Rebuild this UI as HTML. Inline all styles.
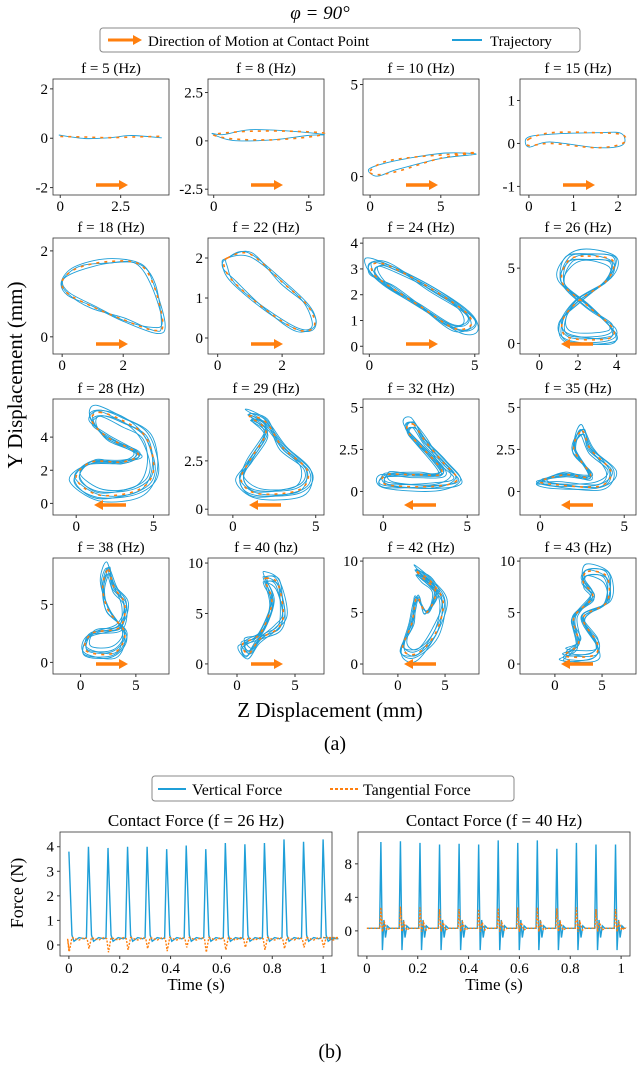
<!DOCTYPE html>
<html><head><meta charset="utf-8"><style>
html,body{margin:0;padding:0;background:#fff}
svg{display:block;font-family:"Liberation Serif",serif}
</style></head><body>
<svg id="fig" width="640" height="1066" viewBox="0 0 640 1066" xmlns="http://www.w3.org/2000/svg">
<text x="320" y="19" font-size="19" text-anchor="middle" font-style="italic">φ = 90°</text>
<g>
<rect x="100" y="28" width="480" height="24" rx="3" fill="#fff" stroke="#888"/>
<line x1="108" y1="40" x2="136" y2="40" stroke="#ff7f0e" stroke-width="3"/><path d="M133 35 L142 40 L133 45Z" fill="#ff7f0e"/>
<text x="148" y="46" font-size="15">Direction of Motion at Contact Point</text>
<line x1="452" y1="40" x2="482" y2="40" stroke="#1f9fd8" stroke-width="2"/>
<text x="490" y="46" font-size="15">Trajectory</text>
</g>
<g id="grid"></g>
<text transform="translate(22,375) rotate(-90)" font-size="21" text-anchor="middle">Y Displacement (mm)</text>
<text x="330" y="717" font-size="21" text-anchor="middle">Z Displacement (mm)</text>
<text x="335" y="750" font-size="20" text-anchor="middle">(a)</text>
<g>
<rect x="152" y="776" width="362" height="25" rx="3" fill="#fff" stroke="#888"/>
<line x1="158" y1="789" x2="186" y2="789" stroke="#1f9fd8" stroke-width="2"/>
<text x="192" y="795" font-size="16">Vertical Force</text>
<line x1="330" y1="789" x2="358" y2="789" stroke="#ff7f0e" stroke-width="2" stroke-dasharray="3,2"/>
<text x="363" y="795" font-size="16">Tangential Force</text>
</g>
<g id="forces"></g>
<text transform="translate(23,893) rotate(-90)" font-size="18" text-anchor="middle">Force (N)</text>
<text x="330" y="1058" font-size="20" text-anchor="middle">(b)</text>
</svg>
<script>
const NS="http://www.w3.org/2000/svg";
const BLUE="#1f9fd8",ORANGE="#ff7f0e";
const freqs=["5","8","10","15","18","22","24","26","28","29","32","35","38","40","42","43"];
const xlims=[[-0.3,4.5],[-0.3,5.8],[-0.5,7.7],[-0.2,2.4],[-0.3,3.5],[-0.3,3.3],[-0.3,5.2],[-1,5],[-1.5,6],[-1.5,5.5],[-1.2,5.7],[-1.2,5.7],[-2.5,8],[-2.5,7.5],[-3.7,8.6],[-3.7,8.6]];
const ylims=[[-2.3,2.4],[-2.8,3.2],[-1,5.3],[-1.2,1.5],[-0.4,2.3],[-0.4,2.5],[-0.3,4.2],[-0.7,7],[-0.7,6.3],[-0.3,5.7],[-1.4,5.5],[-1.4,5.5],[-1,9],[-1,10.5],[-0.97,10.3],[-0.97,10.3]];
const xticks=[[0,2.5],[0,5],[0,5],[0,1,2],[0,2],[0,2],[0,5],[0,2,4],[0,5],[0,5],[0,5],[0,5],[0,5],[0,5],[0,5],[0,5]];
const yticks=[[-2,0,2],[-2.5,0,2.5],[0,5],[-1,0,1],[0,2],[0,1,2],[0,1,2,3,4],[0,5],[0,2,4],[0,2.5],[0,2.5,5],[0,2.5,5],[0,5],[0,5,10],[0,5,10],[0,5,10]];
const arrowDir=[1,1,1,1,1,1,1,-1,-1,-1,-1,-1,1,1,-1,-1];
const loops=[
[[0,0.07],[1,0.05],[2,0.02],[3,0.05],[4.2,0.08]],
[[0,0.3],[1,0.1],[3,0.05],[5,0.2],[5.8,0.4],[4,0.5],[2,0.5],[0.5,0.4]],
[[0,0.3],[1,0.8],[3,1.05],[5.5,1.2],[7.5,1.3],[5,1.0],[2,0.3],[0.5,0.1]],
[[0,0.1],[0.5,0.25],[1.5,0.25],[2.1,0.2],[2.1,0],[1.5,-0.1],[0.5,0],[0,-0.05]],
[[0,1.3],[0.5,1.6],[1.5,1.75],[2.5,1.7],[3,1.2],[3.3,0.3],[3,0.15],[2,0.4],[1,0.7],[0.2,1.0]],
[[0.3,2.0],[1,2.1],[2,1.4],[2.8,0.8],[3.0,0.3],[2.5,0.2],[1.5,0.7],[0.5,1.4],[0.2,1.8]],
[[0.2,3.2],[1,3.1],[3,2.2],[4.6,1.3],[4.8,0.8],[4,0.7],[2.5,1.5],[1,2.3],[0.2,2.8]],
[[2.5,5.8],[3.8,5.5],[3.5,4.2],[2,2.8],[1.2,1.5],[1.5,0.4],[3.5,0.3],[3.8,1],[2.5,2.5],[1.2,4],[1.5,5.5]],
[[1.5,5.5],[3,5],[4.5,4],[5,2],[4,0.8],[1.5,0.5],[0,1.5],[1,2.5],[3,2.5],[4,3],[2,4],[1,5]],
[[1,4.8],[2,4.5],[3,3.2],[4.5,2],[4,1],[1.5,0.8],[0.5,1.5],[1,2.5],[2,4]],
[[1.8,4],[2.5,3],[3.5,1.8],[4.4,0.7],[3,0.3],[0.2,0.4],[0.2,1.0],[2,1.0],[3.5,1.2],[1.5,3.5]],
[[2.5,3.6],[3,2.5],[4.2,1.2],[3.5,0.3],[1,0.4],[0,0.6],[1.5,1.0],[3,0.9],[2,2.5]],
[[2.5,8],[3,6.5],[4,5],[3.5,3],[1,2.5],[0.5,1],[3,0.8],[4,2.5],[2.5,4.5],[2,6.5]],
[[2.5,8.5],[3.5,8],[4,5],[3.5,3.5],[2,2.5],[1,1],[0.5,2],[2,3],[3,6],[2.5,8]],
[[2,9],[3.5,8],[4.8,6],[4,3],[2,1],[0.5,1.5],[1.5,4],[2,6.5],[3,5],[4,7],[2.5,8.5]],
[[3.5,9],[5.5,8.5],[5.5,6],[3,4.5],[4.5,2],[4,0.8],[1,0.8],[2.5,2],[2,4.5],[4,6.5],[3,8]]];
const colX=[53,208,363,520],rowY=[79,238,399,558],PW=116,H=116;
function mk(tag,attrs,parent){const e=document.createElementNS(NS,tag);for(const k in attrs)e.setAttribute(k,attrs[k]);parent.appendChild(e);return e;}
function crPath(pts,closed){
  const n=pts.length;let d="M"+pts[0][0].toFixed(1)+" "+pts[0][1].toFixed(1);
  const g=i=>closed?pts[(i+n)%n]:pts[Math.max(0,Math.min(n-1,i))];
  const m=closed?n:n-1;
  for(let i=0;i<m;i++){const p0=g(i-1),p1=g(i),p2=g(i+1),p3=g(i+2);
    d+=` C${(p1[0]+(p2[0]-p0[0])/6).toFixed(1)} ${(p1[1]+(p2[1]-p0[1])/6).toFixed(1)} ${(p2[0]-(p3[0]-p1[0])/6).toFixed(1)} ${(p2[1]-(p3[1]-p1[1])/6).toFixed(1)} ${p2[0].toFixed(1)} ${p2[1].toFixed(1)}`;}
  return d+(closed?"Z":"");
}
const grid=document.getElementById("grid");
for(let k=0;k<16;k++){
  const r=Math.floor(k/4),c=k%4,x0=colX[c],y0=rowY[r];
  const xs=v=>x0+(v-xlims[k][0])/(xlims[k][1]-xlims[k][0])*PW;
  const ys=v=>y0+H-(v-ylims[k][0])/(ylims[k][1]-ylims[k][0])*H;
  const g=mk("g",{},grid);
  
  
  const t=mk("text",{x:x0+PW/2,y:y0-6,"font-size":15,"text-anchor":"middle"},g);t.textContent="f = "+freqs[k]+(k==13?" (hz)":" (Hz)");
  
  
  mk("rect",{x:x0,y:y0,width:PW,height:H,fill:"none",stroke:"#333","stroke-width":0.8},g);
  xticks[k].forEach(v=>{const X=xs(v);mk("line",{x1:X,x2:X,y1:y0+H,y2:y0+H+3,stroke:"#333"},g);
    const tt=mk("text",{x:X,y:y0+H+16,"font-size":15,"text-anchor":"middle"},g);tt.textContent=v;
    });
  yticks[k].forEach(v=>{const Y=ys(v);mk("line",{x1:x0-3,x2:x0,y1:Y,y2:Y,stroke:"#333"},g);
    const tt=mk("text",{x:x0-5,y:Y+5,"font-size":15,"text-anchor":"end"},g);tt.textContent=v;
    });
  const P=loops[k].map(p=>[xs(p[0]),ys(p[1])]);
  const closed=k!==0;
  const cx=P.reduce((a,p)=>a+p[0],0)/P.length,cy=P.reduce((a,p)=>a+p[1],0)/P.length;
  const nCopies=k<4?1:(k<6?3:7);
  for(let j=0;j<nCopies;j++){const s=1+(j-(nCopies-1)/2)*0.045;
    const Q=P.map((p,i)=>[cx+(p[0]-cx)*s+((i+j)%3-1)*1.5,cy+(p[1]-cy)*s+((i*2+j)%3-1)*1.5]);
    const pa=mk("path",{d:crPath(Q,closed),fill:"none",stroke:BLUE,"stroke-width":0.9},g);
    }
  const po=mk("path",{d:crPath(P,closed),fill:"none",stroke:ORANGE,"stroke-width":1.6,"stroke-dasharray":"3,5"},g);
  
  const ay=y0+H-10,ax=x0+PW/2,d=arrowDir[k];
  const ar=mk("g",{},g);
  mk("line",{x1:ax-15*d,y1:ay,x2:ax+9*d,y2:ay,stroke:ORANGE,"stroke-width":3.5},ar);
  mk("path",{d:`M${ax+8*d} ${ay-5} L${ax+17*d} ${ay} L${ax+8*d} ${ay+5}Z`,fill:ORANGE},ar);
}
// Force plots
const forceTitles=["Contact Force (f = 26 Hz)","Contact Force (f = 40 Hz)"];
const peaks26=[3.8,4.0,3.95,4.0,4.0,3.9,4.05,3.9,4.15,4.1,4.15,4.3,4.2,4.3];
const peaks40=[10.6,10.7,10.5,10.3,10.4,10.3,10.8,10.5,10.8,9.8,10.5,10.3,10.3];
const tang26=[-0.25,-0.15,-0.3,-0.2,-0.15,-0.25,-0.1,-0.3,-0.2,-0.1,-0.2,-0.15,-0.1,-0.1];
const tang40=[2.8,2.9,2.8,2.6,2.6,2.6,2.7,2.8,2.8,2.7,2.8,2.6,2.6];
const fxt=[0,0.2,0.4,0.6,0.8,1];
const fyt=[[0,1,2,3,4],[0,4,8]];
const fyl=[[-0.45,4.6],[-3,11.8]];
const fBox=[[60,832,272,124],[358,832,272,124]];
const fg=document.getElementById("forces");
[0,1].forEach(p=>{
  const [x0,y0,W,Hh]=fBox[p];
  const xs=v=>x0+(v+0.035)/1.07*W, ys=v=>y0+Hh-(v-fyl[p][0])/(fyl[p][1]-fyl[p][0])*Hh;
  const g=mk("g",{},fg);
  const t=mk("text",{x:x0+W/2,y:y0-6,"font-size":17,"text-anchor":"middle"},g);t.textContent=forceTitles[p];
  
  mk("rect",{x:x0,y:y0,width:W,height:Hh,fill:"none",stroke:"#333","stroke-width":0.8},g);
  fxt.forEach(v=>{const X=xs(v);mk("line",{x1:X,x2:X,y1:y0+Hh,y2:y0+Hh+3,stroke:"#333"},g);
    const tt=mk("text",{x:X,y:y0+Hh+17,"font-size":15,"text-anchor":"middle"},g);tt.textContent=v;
    });
  fyt[p].forEach(v=>{const Y=ys(v);mk("line",{x1:x0-3,x2:x0,y1:Y,y2:Y,stroke:"#333"},g);
    const tt=mk("text",{x:x0-6,y:Y+5,"font-size":15,"text-anchor":"end"},g);tt.textContent=v;
    });
  const tx=mk("text",{x:x0+W/2,y:y0+Hh+34,"font-size":17,"text-anchor":"middle"},g);tx.textContent="Time (s)";
  
  const pk=p?peaks40:peaks26,tg=p?tang40:tang26,T=1/13,off=p?0.055:0;
  const base=0.3;
  let vd="",td="";
  if(p===0){vd=`M${xs(0)} ${ys(pk[0])}`;td=`M${xs(0)} ${ys(tg[0])}`;}else{vd=`M${xs(0)} ${ys(base)}`;td=`M${xs(0)} ${ys(base)}`;}
  pk.forEach((v,i)=>{const c=off+i*T;
    if(p===0){
      if(i>0){vd+=` L${xs(c-0.008)} ${ys(base)} L${xs(c)} ${ys(v)}`;}
      vd+=` L${xs(c+0.012)} ${ys(0.4)} L${xs(c+0.02)} ${ys(0.15)} L${xs(c+0.04)} ${ys(0.3)} L${xs(c+0.06)} ${ys(0.25)}`;
      td+=` L${xs(c-0.005)} ${ys(0.25)} L${xs(c+0.002)} ${ys(tg[i])} L${xs(c+0.012)} ${ys(0.3)} L${xs(c+0.04)} ${ys(0.2)} L${xs(c+0.06)} ${ys(0.3)}`;
    }else{
      vd+=` L${xs(c-0.005)} ${ys(base)} L${xs(c)} ${ys(v)} L${xs(c+0.006)} ${ys(-2.3)} L${xs(c+0.012)} ${ys(1.3)} L${xs(c+0.018)} ${ys(-0.8)} L${xs(c+0.025)} ${ys(0.6)} L${xs(c+0.035)} ${ys(base)}`;
      td+=` L${xs(c-0.004)} ${ys(base)} L${xs(c)} ${ys(tg[i])} L${xs(c+0.006)} ${ys(-0.1)} L${xs(c+0.014)} ${ys(1.0)} L${xs(c+0.024)} ${ys(0.1)} L${xs(c+0.035)} ${ys(base)}`;
    }});
  vd+=` L${xs(1)} ${ys(base)}`;td+=` L${xs(1)} ${ys(base)}`;
  const a=mk("path",{d:vd,fill:"none",stroke:BLUE,"stroke-width":1.4},g);
  
  const b=mk("path",{d:td,fill:"none",stroke:ORANGE,"stroke-width":1.4,"stroke-dasharray":"2,1.5"},g);
  
});
</script>
</body></html>
